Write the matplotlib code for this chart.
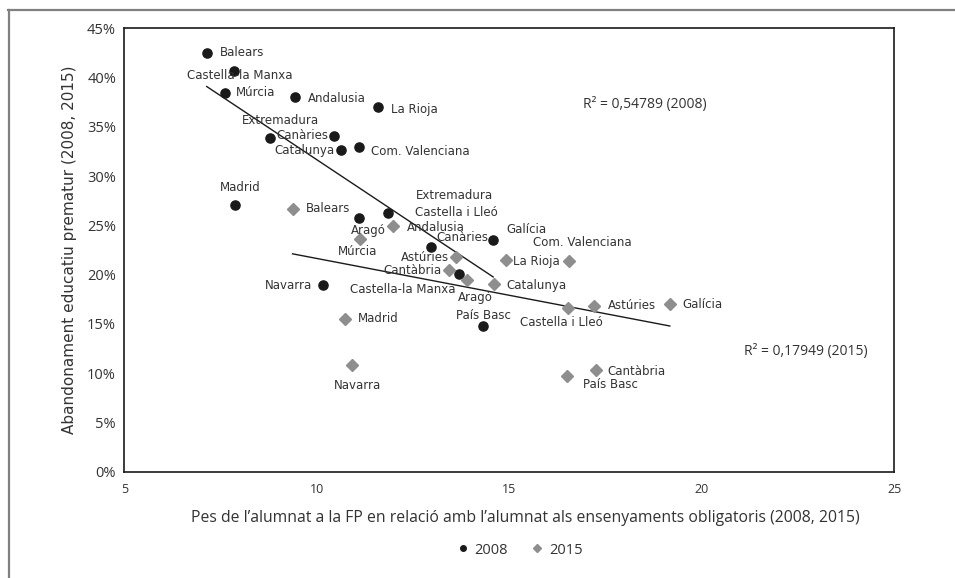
import numpy as np
import matplotlib
matplotlib.use('Agg')
import matplotlib.pyplot as plt
from matplotlib.lines import Line2D

# Dades llegides del gràfic
regions_2008 = ['Balears', 'Castella-la Manxa', 'Múrcia', 'Andalusia', 'La Rioja',
                'Extremadura', 'Canàries', 'Catalunya', 'Com. Valenciana', 'Madrid',
                'Aragó', 'Castella i Lleó', 'Galícia', 'Astúries', 'Cantàbria',
                'Navarra', 'País Basc']
fp_2008 = [7.14, 7.85, 7.61, 9.43, 11.60, 8.78, 10.45, 10.62, 11.09, 7.88,
           11.10, 11.86, 14.58, 12.97, 13.70, 10.15, 14.32]
abandon_2008 = [42.5, 40.7, 38.4, 38.0, 37.0, 33.9, 34.1, 32.6, 33.0, 27.1,
                25.7, 26.3, 23.5, 22.8, 20.1, 18.9, 14.8]

regions_2015 = ['Balears', 'Andalusia', 'Múrcia', 'Canàries', 'Castella-la Manxa',
                'Aragó', 'Catalunya', 'La Rioja', 'Com. Valenciana', 'Castella i Lleó',
                'Astúries', 'Galícia', 'Cantàbria', 'País Basc', 'Madrid', 'Navarra']
fp_2015 = [9.37, 11.99, 11.13, 13.61, 13.44, 13.89, 14.60, 14.91, 16.54, 16.52,
           17.21, 19.17, 17.25, 16.51, 10.73, 10.92]
abandon_2015 = [26.7, 24.9, 23.6, 21.8, 20.5, 19.5, 19.0, 21.5, 21.4, 16.6,
                16.8, 17.0, 10.3, 9.7, 15.5, 10.8]

r2_2008 = '0,54789'
r2_2015 = '0,17949'

x_ticks = [5, 10, 15, 20, 25]
y_ticks = [0, 5, 10, 15, 20, 25, 30, 35, 40, 45]

# posicio de les etiquetes (px: dreta, avall, alineacio)
lab_2008 = {
    'Balears': (13, 0, 'left'), 'Castella-la Manxa': (6, 5, 'center'),
    'Múrcia': (11, -1, 'left'), 'Andalusia': (13, 1.5, 'left'),
    'La Rioja': (13, 2, 'left'), 'Extremadura': (11, -17, 'center'),
    'Canàries': (-6, 0, 'right'), 'Catalunya': (-6, 0, 'right'),
    'Com. Valenciana': (12, 5, 'left'), 'Madrid': (5, -17, 'center'),
    'Aragó': (9, 12, 'center'), 'Castella i Lleó': (27, 0, 'left'),
    'Galícia': (13, -11, 'left'), 'Astúries': (-6.5, 10.6, 'center'),
    'Cantàbria': (-18, -3, 'right'), 'Navarra': (-10, 0, 'right'),
    'País Basc': (0, -10, 'center'),
}
lab_2015 = {
    'Balears': (13, 0, 'left'), 'Andalusia': (13, 1, 'left'),
    'Múrcia': (-2.6, 12, 'center'), 'Canàries': (6.5, -19, 'center'),
    'Castella-la Manxa': (-46, 20, 'center'), 'Aragó': (9, 18, 'center'),
    'Catalunya': (12, 1, 'left'), 'La Rioja': (7.5, 1.5, 'left'),
    'Com. Valenciana': (14, -18, 'center'), 'Castella i Lleó': (-6.5, 14.4, 'center'),
    'Astúries': (13.4, -1, 'left'), 'Galícia': (13, 0, 'left'),
    'Cantàbria': (11.7, 1, 'left'), 'País Basc': (42.7, 8, 'center'),
    'Madrid': (13, 0, 'left'), 'Navarra': (5.7, 20, 'center'),
}

black = '#1a1a1a'
grey = '#8e8e8e'
txt = '#333333'

plt.rcParams['font.family'] = ['DejaVu Sans']

fig = plt.figure(figsize=(9.55, 5.78), dpi=100)
ax = fig.add_axes([0.1302, 0.1839, 0.8062, 0.7671])

ax.plot(fp_2008, abandon_2008, linestyle='none', marker='o', ms=6.6,
        color=black, zorder=3)
ax.plot(fp_2015, abandon_2015, linestyle='none', marker='D', ms=5.8,
        color=grey, zorder=3)

# rectes de regressio
for xs, ys in [(fp_2008, abandon_2008), (fp_2015, abandon_2015)]:
    xs = np.array(xs)
    m, b = np.polyfit(xs, ys, 1)
    xx = np.array([xs.min(), xs.max()])
    ax.plot(xx, m * xx + b, color=black, lw=1.0, zorder=2)

for names, xs, ys, offs in [(regions_2008, fp_2008, abandon_2008, lab_2008),
                            (regions_2015, fp_2015, abandon_2015, lab_2015)]:
    for n, x, y in zip(names, xs, ys):
        dx, dy, ha = offs[n]
        ax.annotate(n, (x, y), xytext=(dx, -dy), textcoords='offset pixels',
                    ha=ha, va='center', fontsize=8.5, color=txt, zorder=4)

# etiqueta d'Extremadura 2015 (el punt queda amagat)
i = regions_2015.index('Andalusia')
ax.annotate('Extremadura', (fp_2015[i], abandon_2015[i]), xytext=(61, 31),
            textcoords='offset pixels', ha='center', va='center',
            fontsize=8.5, color=txt)

ax.text(0.676, 0.829, 'R² = ' + r2_2008 + ' (2008)', transform=ax.transAxes,
        ha='center', va='center', fontsize=10, family='Open Sans', color=txt)
ax.text(0.885, 0.272, 'R² = ' + r2_2015 + ' (2015)', transform=ax.transAxes,
        ha='center', va='center', fontsize=10, family='Open Sans', color=txt)

ax.set_xlim(5, 25)
ax.set_ylim(0, 45)
ax.set_xticks(x_ticks)
ax.set_xticklabels([str(t) for t in x_ticks], family='Open Sans', fontsize=9, color=txt)
ax.set_yticks(y_ticks)
ax.set_yticklabels([f'{t}%' for t in y_ticks], family='Open Sans', fontsize=10.5, color=txt)
ax.tick_params(length=0)
ax.tick_params(axis='x', pad=8)
ax.tick_params(axis='y', pad=6)
for s in ax.spines.values():
    s.set_color(black)
    s.set_linewidth(1.2)

fig.text(525.6 / 955, 1 - 518.3 / 578,
         'Pes de l’alumnat a la FP en relació amb l’alumnat als ensenyaments obligatoris (2008, 2015)',
         ha='center', va='center', fontsize=11.3, family='Open Sans', color=txt)
fig.text(70 / 955, 1 - 250 / 578, 'Abandonament educatiu prematur (2008, 2015)',
         rotation=90, ha='center', va='center', fontsize=11, color=txt)

handles = [Line2D([], [], linestyle='none', marker='o', ms=4, color=black),
           Line2D([], [], linestyle='none', marker='D', ms=4.5, color=grey)]
leg = fig.legend(handles, ['2008', '2015'], loc='center', ncol=2, frameon=False,
                 bbox_to_anchor=(519 / 955, 1 - 550 / 578), handletextpad=0.3,
                 columnspacing=1.5, handlelength=1.0, prop={'family': 'Open Sans', 'size': 10.5})
for t in leg.get_texts():
    t.set_color(txt)

# marc exterior
fig.add_artist(Line2D([8 / 955, 1], [1 - 10 / 578, 1 - 10 / 578],
                      transform=fig.transFigure, color='#808080', lw=1.6))
fig.add_artist(Line2D([9 / 955, 9 / 955], [0, 1 - 10 / 578],
                      transform=fig.transFigure, color='#808080', lw=1.6))

fig.savefig('out.png', dpi=100)
